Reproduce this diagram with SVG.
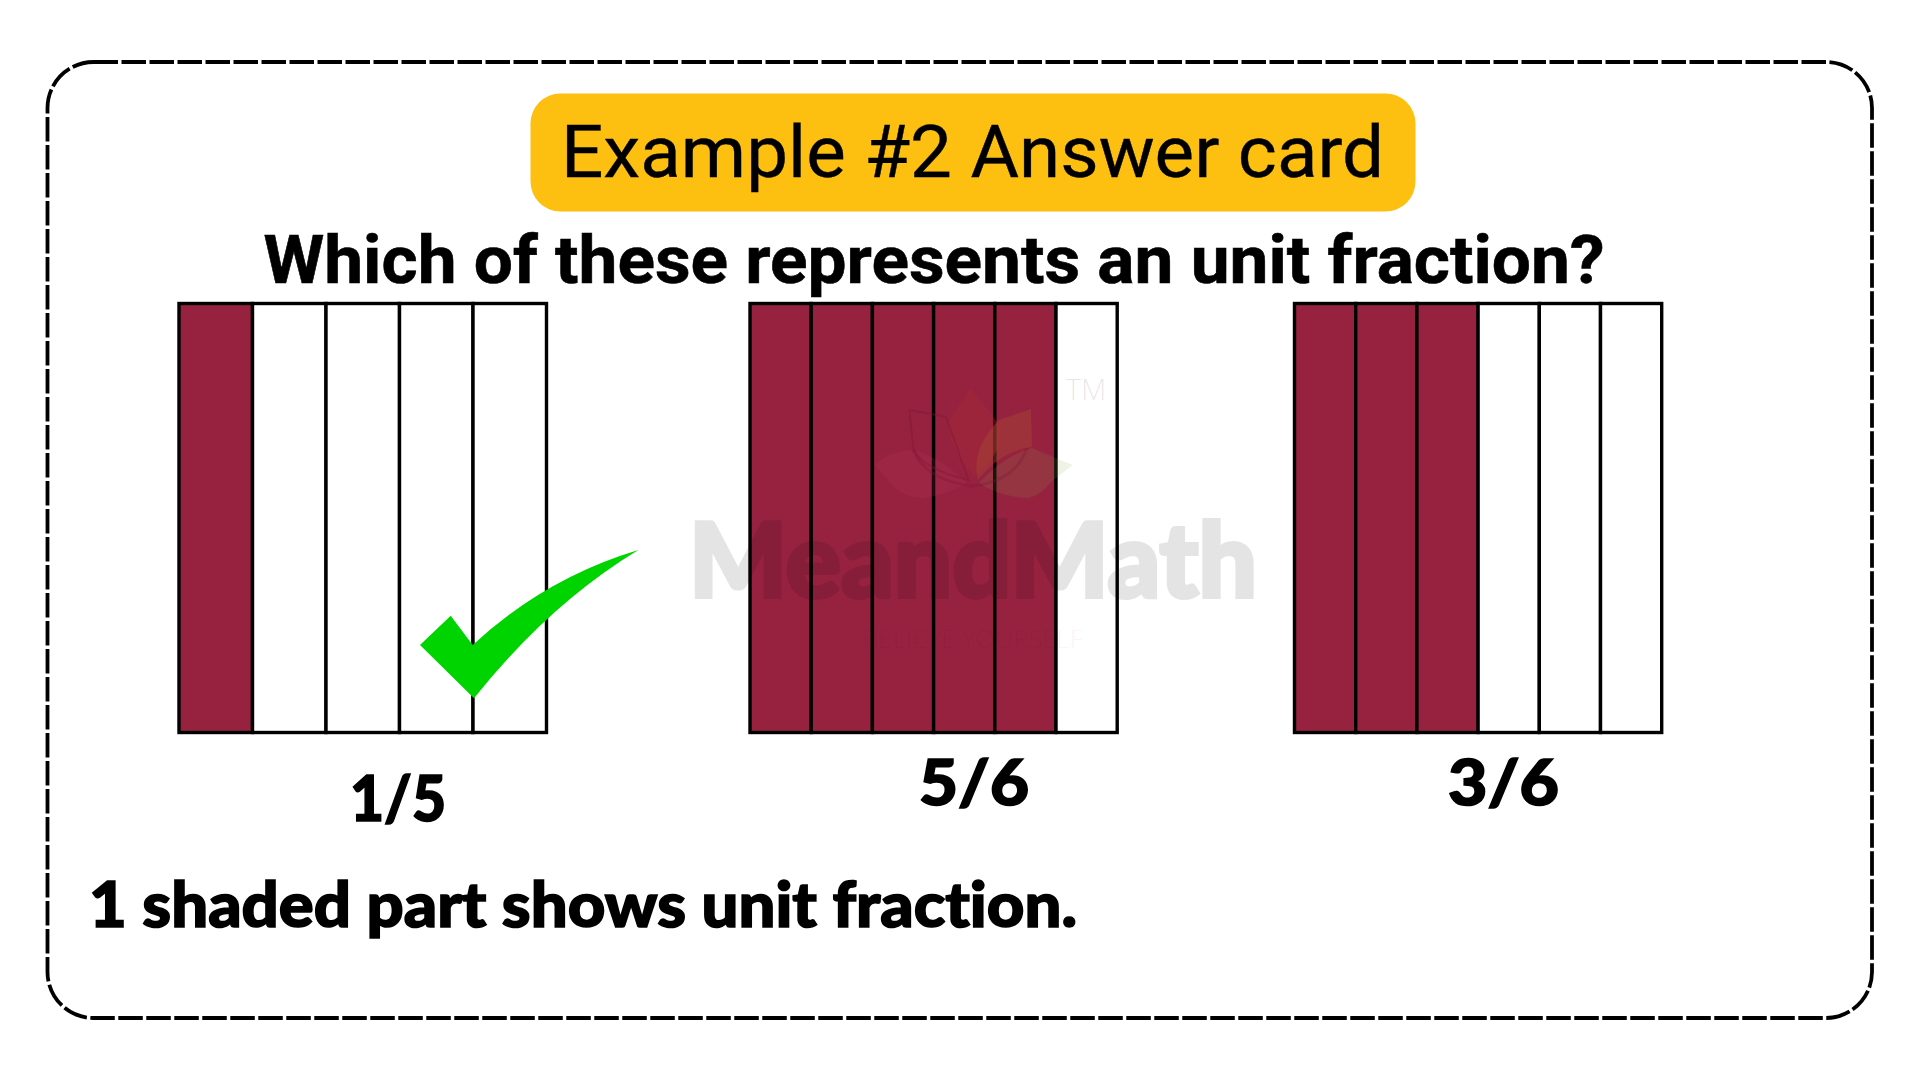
<svg xmlns="http://www.w3.org/2000/svg" width="1920" height="1080" viewBox="0 0 1920 1080">
<style>
.bar{stroke:#000;stroke-width:3.4;fill:#fff}
.on{fill:#962240}
.frac{font-family:"Lato","Liberation Sans",sans-serif;font-weight:900;font-size:63px;fill:#000;stroke:#000;stroke-width:1.6;font-variant-ligatures:none}
</style>
<rect width="1920" height="1080" fill="#fff"/>
<g id="card"><rect x="47.5" y="62" width="1824.5" height="956" rx="46" ry="46" fill="#fff" stroke="#000" stroke-width="3.8" stroke-dasharray="24.5 3.5"/></g>
<g id="title">
<rect x="530.5" y="93.5" width="885" height="118" rx="30" ry="30" fill="#fdc010"/>
<text x="561" y="177" font-family="Roboto,sans-serif" font-size="73px" fill="#000" stroke="#000" stroke-width=".4" textLength="823" lengthAdjust="spacingAndGlyphs">Example #2 Answer card</text>
</g>
<g id="question"><text x="263.5" y="283" font-family="Roboto,sans-serif" font-weight="700" font-size="67.5px" fill="#000" stroke="#000" stroke-width=".6" textLength="1341" lengthAdjust="spacingAndGlyphs">Which of these represents an unit fraction?</text></g>
<g id="bar-1-5">
<rect class="bar on" x="179" y="303.5" width="73.5" height="429"/>
<rect class="bar" x="252.5" y="303.5" width="73.5" height="429"/>
<rect class="bar" x="326" y="303.5" width="73.5" height="429"/>
<rect class="bar" x="399.5" y="303.5" width="73.5" height="429"/>
<rect class="bar" x="473" y="303.5" width="73.5" height="429"/>
</g>
<g id="bar-5-6">
<rect class="bar on" x="750" y="303.5" width="61.2" height="429"/>
<rect class="bar on" x="811.2" y="303.5" width="61.2" height="429"/>
<rect class="bar on" x="872.4" y="303.5" width="61.2" height="429"/>
<rect class="bar on" x="933.6" y="303.5" width="61.2" height="429"/>
<rect class="bar on" x="994.8" y="303.5" width="61.2" height="429"/>
<rect class="bar" x="1056" y="303.5" width="61.2" height="429"/>
</g>
<g id="bar-3-6">
<rect class="bar on" x="1294.5" y="303.5" width="61.2" height="429"/>
<rect class="bar on" x="1355.7" y="303.5" width="61.2" height="429"/>
<rect class="bar on" x="1416.9" y="303.5" width="61.2" height="429"/>
<rect class="bar" x="1478.1" y="303.5" width="61.2" height="429"/>
<rect class="bar" x="1539.3" y="303.5" width="61.2" height="429"/>
<rect class="bar" x="1600.5" y="303.5" width="61.2" height="429"/>
</g>
<g id="watermark">
<path d="M874.7 465Q890 452 907 450Q935 452 966.5 483Q945 496 921.6 498Q905 497 895 488Z" fill="#c83c64" opacity=".16"/>
<path d="M978.8 483Q1005 455 1031.8 448L1072.6 465 1050 483Q1040 496 1027.8 498Q1000 497 978.8 483Z" fill="#8fa84a" opacity=".14"/>
<path d="M970.6 388L993 416.7Q1003 428 1001 438Q997 458 974.7 476.7Q950 450 948 423Z" fill="#a82a34" opacity=".4"/>
<path d="M999 420L1031 409 1032 446.7Q1000 452 978 480Q970 450 999 420Z" fill="#a84a32" opacity=".4"/>
<path d="M909.4 410L946 416.7Q958 450 968.6 480Q925 470 913.5 450Z" fill="none" stroke="#7c1834" stroke-width="2" opacity=".4"/>
<path d="M913.5 450Q925 480 972 486Q1015 482 1027 448" fill="none" stroke="#7c1834" stroke-width="3" opacity=".3"/>
<g opacity=".1">
<text x="689" y="597" font-family="Lato,sans-serif" font-weight="900" font-size="103px" fill="#000" stroke="#000" stroke-width="4" textLength="568" lengthAdjust="spacingAndGlyphs">MeandMath</text>
</g>
<text x="1065.5" y="400" font-family="Open Sans,sans-serif" font-weight="300" font-size="30px" fill="#000" fill-opacity=".1" textLength="41" lengthAdjust="spacingAndGlyphs">TM</text>
<text x="862.5" y="648" font-family="Open Sans,sans-serif" font-weight="300" font-size="26px" fill="#000" fill-opacity=".05" textLength="220" lengthAdjust="spacingAndGlyphs">BELIEVE YOURSELF</text>
</g>
<g id="check"><path d="M420 645L450.7 615.7 472.7 645Q545 578 638.3 550Q548 605 474 698.3Z" fill="#00d400"/></g>
<g id="labels">
<text class="frac" x="350" y="820.5" textLength="96" lengthAdjust="spacingAndGlyphs">1/5</text>
<text class="frac" x="919" y="805" textLength="110" lengthAdjust="spacingAndGlyphs">5/6</text>
<text class="frac" x="1448" y="805" textLength="111" lengthAdjust="spacingAndGlyphs">3/6</text>
<text class="frac" x="89" y="926.5" textLength="988" lengthAdjust="spacingAndGlyphs">1 shaded part shows unit fraction.</text>
</g>
</svg>
